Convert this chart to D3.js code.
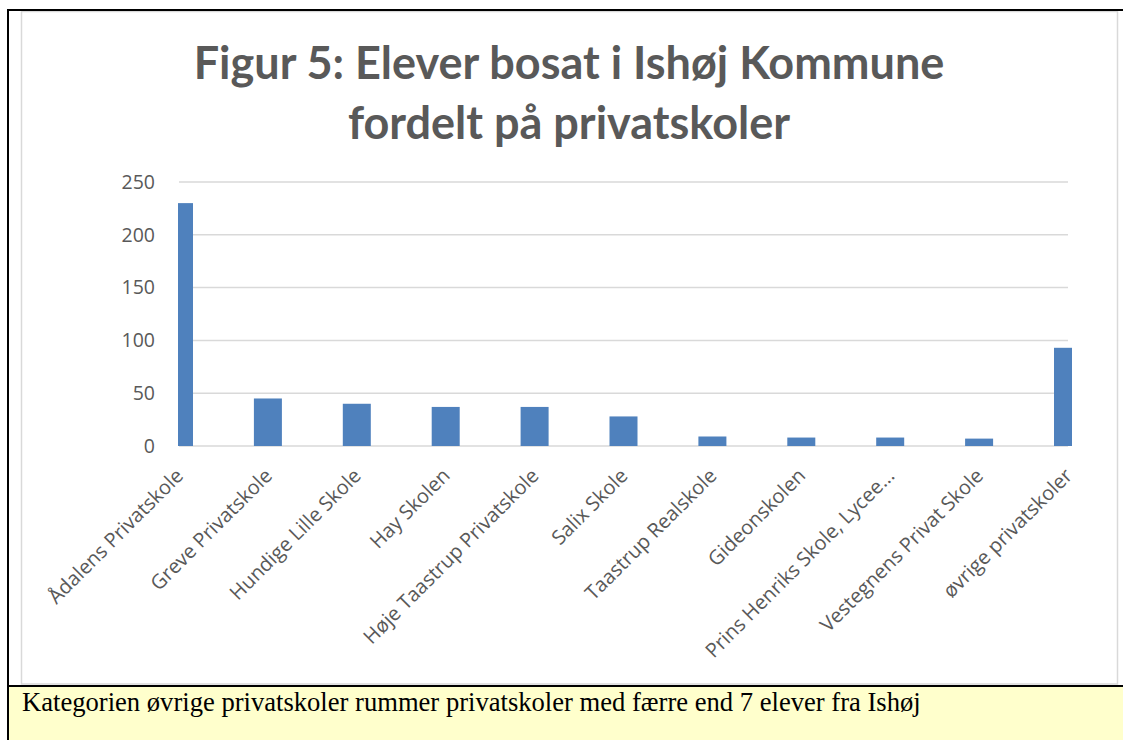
<!DOCTYPE html>
<html><head><meta charset="utf-8">
<script src="https://cdn.jsdelivr.net/npm/d3@7"></script>
<style>html,body{margin:0;padding:0;background:#fff;}svg{display:block;}</style>
</head><body>
<svg id="c" width="1123" height="740"></svg>
<script>
const categories = ["Ådalens Privatskole","Greve Privatskole","Hundige Lille Skole","Hay Skolen","Høje Taastrup Privatskole","Salix Skole","Taastrup Realskole","Gideonskolen","Prins Henriks Skole, Lycee...","Vestegnens Privat Skole","øvrige privatskoler"];
const values = [230, 45, 40, 37, 37, 28, 9, 8, 8, 7, 93];
const yTicks = [0, 50, 100, 150, 200, 250];
const titleLines = ["Figur 5: Elever bosat i Ishøj Kommune", "fordelt på privatskoler"];
const footnote = "Kategorien øvrige privatskoler rummer privatskoler med færre end 7 elever fra Ishøj";

const svg = d3.select("#c");
const W = 1123, H = 740;
const plot = {left: 179, right: 1068, top: 182, bottom: 446};

// frame
svg.append("rect").attr("x",21.5).attr("y",11.5).attr("width",1096).attr("height",672.5)
  .attr("fill","#fff").attr("stroke","#d9d9d9").attr("stroke-width",1.5);
svg.append("rect").attr("x",9).attr("y",687).attr("width",W-9).attr("height",H-687).attr("fill","#ffffcc");
svg.append("line").attr("x1",7).attr("x2",W).attr("y1",10).attr("y2",10).attr("stroke","#000").attr("stroke-width",2);
svg.append("line").attr("x1",8).attr("x2",8).attr("y1",9).attr("y2",H).attr("stroke","#000").attr("stroke-width",2);
svg.append("line").attr("x1",7).attr("x2",W).attr("y1",686).attr("y2",686).attr("stroke","#000").attr("stroke-width",2);

// title
const title = svg.append("text").attr("text-anchor","middle")
  .attr("font-family","Lato, 'Open Sans', sans-serif").attr("font-weight","bold")
  .attr("font-size",45).attr("fill","#595959");
titleLines.forEach((t,i)=>title.append("tspan").attr("x",569).attr("y",79+i*60).text(t));

const x = d3.scalePoint().domain(categories).range([plot.left, plot.right]).padding(0);
const y = d3.scaleLinear().domain([0,250]).range([plot.bottom, plot.top]);

// gridlines
svg.append("g").selectAll("line").data(yTicks).join("line")
  .attr("x1",plot.left).attr("x2",plot.right)
  .attr("y1",d=>y(d)).attr("y2",d=>y(d))
  .attr("stroke","#d9d9d9").attr("stroke-width",1.5);

// y axis labels
const yAxis = d3.axisLeft(y).tickValues(yTicks).tickSize(0).tickPadding(24);
const gy = svg.append("g").attr("transform",`translate(${plot.left},0)`).call(yAxis);
gy.select(".domain").remove();
gy.selectAll("text").attr("font-family","'Open Sans', sans-serif").attr("font-size",19.5).attr("fill","#595959");

// bars (clipped to plot area)
svg.append("clipPath").attr("id","pc").append("rect")
  .attr("x",plot.left-1).attr("y",0).attr("width",plot.right-plot.left+5).attr("height",plot.bottom);
const bw = 28;
svg.append("g").attr("clip-path","url(#pc)").selectAll("rect").data(values).join("rect")
  .attr("x",(d,i)=>x(categories[i])-bw/2).attr("width",bw)
  .attr("y",d=>y(d)).attr("height",d=>y(0)-y(d))
  .attr("fill","#4f81bd");

// x axis
const xAxis = d3.axisBottom(x).tickSize(0).tickPadding(0);
const gx = svg.append("g").attr("transform",`translate(0,${plot.bottom})`).call(xAxis);
gx.select(".domain").remove();
gx.selectAll("text")
  .attr("font-family","'Open Sans', sans-serif").attr("font-size",20).attr("fill","#595959")
  .attr("text-anchor","end").attr("dy","0.35em")
  .attr("transform","translate(0,26) rotate(-45)");

// footnote
svg.append("text").attr("x",22).attr("y",711)
  .attr("font-family","'Liberation Serif', 'Times New Roman', serif").attr("font-size",26.6).attr("fill","#000")
  .text(footnote);
</script>
</body></html>
